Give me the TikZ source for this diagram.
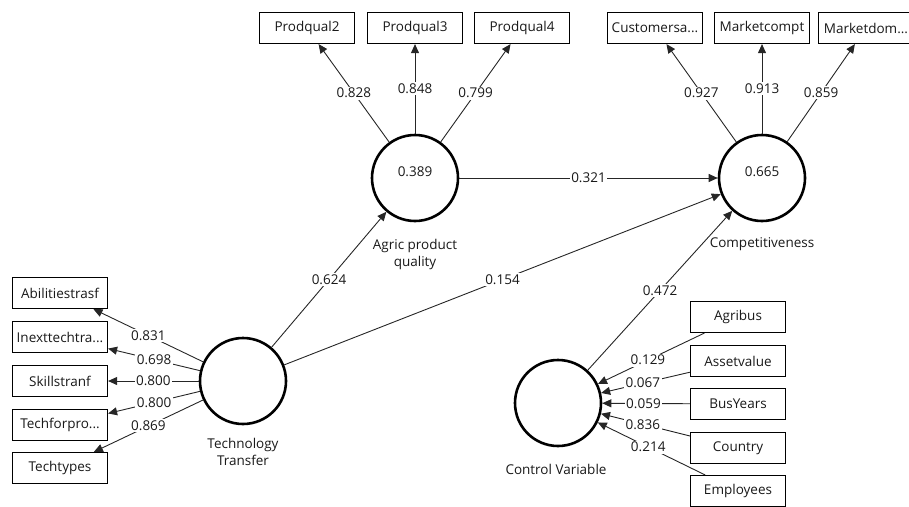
\documentclass[tikz,border=0pt]{standalone}
\usepackage{fontspec}
\setmainfont{Open Sans}
\usetikzlibrary{arrows.meta}

\begin{document}
\begin{tikzpicture}[x=1pt,y=-1pt]
  \tikzset{LatentStyle/.style = {
    shape         = circle,
    draw          = black,
    fill          = white,
    line width    = 2.6pt,
    inner sep     = 0pt,
    minimum size  = 86pt
    }
  }
  \tikzset{IndicatorStyle/.style = {
    shape         = rectangle,
    draw          = black,
    fill          = white,
    line width    = 1.2pt,
    text          = black!90,
    inner sep     = 0pt,
    minimum width = 95pt,
    minimum height= 31pt,
    font          = \fontsize{13.5}{16}\selectfont
    }
  }
  \tikzset{PathStyle/.style = {
    draw          = black!85,
    line width    = 0.9pt,
    -{Triangle[length=9pt,width=8pt]}
    }
  }
  \tikzset{CoefStyle/.style = {
    fill          = white,
    text          = black!90,
    inner sep     = 1.5pt,
    font          = \fontsize{13.5}{16}\selectfont
    }
  }
  \tikzset{NameStyle/.style = {
    text          = black!90,
    align         = center,
    font          = \fontsize{13.5}{17}\selectfont
    }
  }

  \useasboundingbox (0,0) rectangle (909,506);

  % latent variables
  \node[LatentStyle](APQ) at (415,178) {};
  \node[LatentStyle](COMP) at (762,178) {};
  \node[LatentStyle](TT) at (243,381) {};
  \node[LatentStyle](CV) at (558,403) {};
  \node[NameStyle](APQval) at (415,172) {0.389};
  \node[NameStyle](COMPval) at (762,172) {0.665};
  \node[NameStyle](APQname) at (415,254) {Agric product\\quality};
  \node[NameStyle](COMPname) at (762,244) {Competitiveness};
  \node[NameStyle](TTname) at (243,452) {Technology\\Transfer};
  \node[NameStyle](CVname) at (556,469) {Control Variable};

  % indicators
  \node[IndicatorStyle](P2) at (307,28) {Prodqual2};
  \node[IndicatorStyle](P3) at (415,28) {Prodqual3};
  \node[IndicatorStyle](P4) at (522,28) {Prodqual4};
  \node[IndicatorStyle](C1) at (655,28) {Customersa...};
  \node[IndicatorStyle](C2) at (762,28) {Marketcompt};
  \node[IndicatorStyle](C3) at (866,28) {Marketdom...};
  \node[IndicatorStyle](T1) at (60,293) {Abilitiestrasf};
  \node[IndicatorStyle](T2) at (60,337) {Inexttechtra...};
  \node[IndicatorStyle](T3) at (60,381) {Skillstranf};
  \node[IndicatorStyle](T4) at (60,425) {Techforpro...};
  \node[IndicatorStyle](T5) at (60,468) {Techtypes};
  \node[IndicatorStyle](V1) at (738,317) {Agribus};
  \node[IndicatorStyle](V2) at (738,361) {Assetvalue};
  \node[IndicatorStyle](V3) at (738,404) {BusYears};
  \node[IndicatorStyle](V4) at (738,448) {Country};
  \node[IndicatorStyle](V5) at (738,491) {Employees};

  % outer loadings
  \draw[PathStyle](APQ) to node[CoefStyle]{0.828} (P2);
  \draw[PathStyle](APQ) to node[CoefStyle]{0.848} (P3);
  \draw[PathStyle](APQ) to node[CoefStyle]{0.799} (P4);
  \draw[PathStyle](COMP) to node[CoefStyle]{0.927} (C1);
  \draw[PathStyle](COMP) to node[CoefStyle]{0.913} (C2);
  \draw[PathStyle](COMP) to node[CoefStyle]{0.859} (C3);
  \draw[PathStyle](TT) to node[CoefStyle]{0.831} (T1);
  \draw[PathStyle](TT) to node[CoefStyle]{0.698} (T2);
  \draw[PathStyle](TT) to node[CoefStyle]{0.800} (T3);
  \draw[PathStyle](TT) to node[CoefStyle]{0.800} (T4);
  \draw[PathStyle](TT) to node[CoefStyle]{0.869} (T5);
  \draw[PathStyle](V1) to node[CoefStyle,pos=0.53]{0.129} (CV);
  \draw[PathStyle](V2) to node[CoefStyle,pos=0.53]{0.067} (CV);
  \draw[PathStyle](V3) to node[CoefStyle,pos=0.53]{0.059} (CV);
  \draw[PathStyle](V4) to node[CoefStyle,pos=0.53]{0.836} (CV);
  \draw[PathStyle](V5) to node[CoefStyle,pos=0.53]{0.214} (CV);

  % inner model
  \draw[PathStyle](TT) to node[CoefStyle]{0.624} (APQ);
  \draw[PathStyle](TT) to node[CoefStyle]{0.154} (COMP);
  \draw[PathStyle](APQ) to node[CoefStyle]{0.321} (COMP);
  \draw[PathStyle](CV) to node[CoefStyle]{0.472} (COMP);

\end{tikzpicture}
\end{document}
